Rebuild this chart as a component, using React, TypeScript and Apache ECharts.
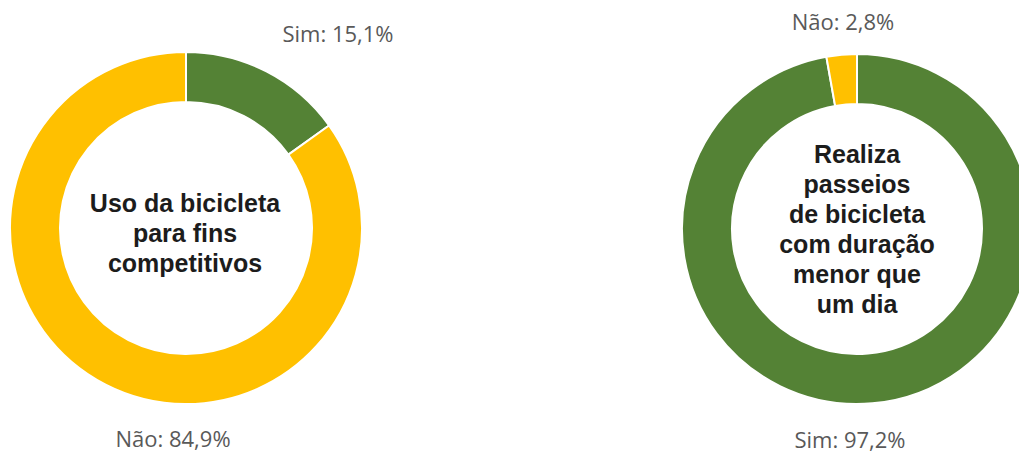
import React, { useEffect, useRef } from "react";
import * as echarts from "echarts";

const categories = ["Sim", "Não"];
const leftValues = [15.1, 84.9];
const rightValues = [97.2, 2.8];
const leftTitle = "Uso da bicicleta\npara fins\ncompetitivos";
const rightTitle = "Realiza\npasseios\nde bicicleta\ncom duração\nmenor que\num dia";

const GREEN = "#548235";
const YELLOW = "#FFC000";

const fmt = (name: string, v: number) => `${name}: ${v.toFixed(1).replace(".", ",")}%`;

export default function App() {
  const ref = useRef<HTMLDivElement>(null);
  useEffect(() => {
    if (!ref.current) return;
    const chart = echarts.init(ref.current, undefined, { renderer: "svg" });
    const labelStyle = {
      fontFamily: "Open Sans",
      fontSize: 22,
      lineHeight: 24,
      fill: "#595959",
      textAlign: "center",
      textVerticalAlign: "middle",
    };
    const centerStyle = {
      fontFamily: "Liberation Sans",
      fontWeight: "bold",
      fontSize: 25,
      lineHeight: 30,
      fill: "#1c1c1c",
      textAlign: "center",
      textVerticalAlign: "middle",
    };
    const pieBase = {
      type: "pie",
      radius: [126, 176],
      startAngle: 90,
      clockwise: true,
      label: { show: false },
      labelLine: { show: false },
      emphasis: { disabled: true },
      itemStyle: { borderColor: "#ffffff", borderWidth: 2 },
    };
    chart.setOption({
      animation: false,
      color: [GREEN, YELLOW],
      series: [
        {
          ...pieBase,
          center: [186, 228],
          data: categories.map((c, i) => ({ name: c, value: leftValues[i] })),
        },
        {
          ...pieBase,
          center: [857, 229],
          radius: [125, 175],
          data: categories.map((c, i) => ({ name: c, value: rightValues[i] })),
        },
      ],
      graphic: [
        { type: "text", x: 338, y: 33, style: { ...labelStyle, text: fmt(categories[0], leftValues[0]) } },
        { type: "text", x: 173, y: 438, style: { ...labelStyle, text: fmt(categories[1], leftValues[1]) } },
        { type: "text", x: 843, y: 21, style: { ...labelStyle, text: fmt(categories[1], rightValues[1]) } },
        { type: "text", x: 850, y: 439, style: { ...labelStyle, text: fmt(categories[0], rightValues[0]) } },
        { type: "text", x: 185, y: 233, style: { ...centerStyle, text: leftTitle } },
        { type: "text", x: 857, y: 229, style: { ...centerStyle, text: rightTitle } },
      ],
    });
    return () => chart.dispose();
  }, []);
  return (
    <div
      ref={ref}
      style={{ position: "fixed", left: 0, top: 0, width: 1019, height: 453, background: "#ffffff" }}
    />
  );
}
